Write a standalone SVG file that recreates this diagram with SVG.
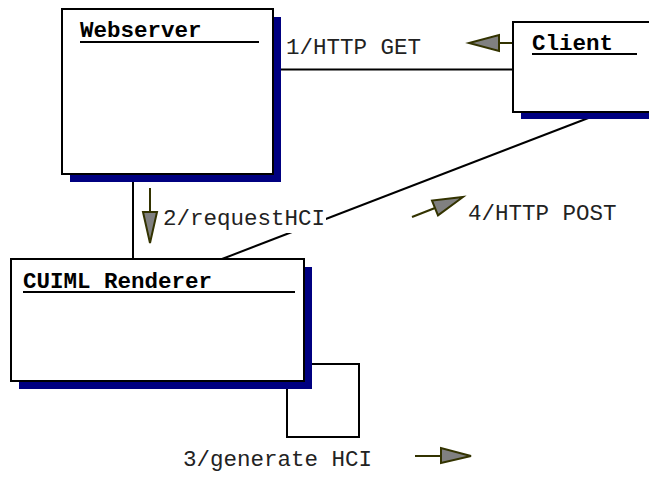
<svg xmlns="http://www.w3.org/2000/svg" width="649" height="478" viewBox="0 0 649 478">
<style>
.line{stroke:#000;stroke-width:2;fill:none}
.box{fill:#fff;stroke:#000;stroke-width:2}
.shadow{fill:#000080}
.title{font-family:"Liberation Mono",monospace;font-size:22.5px;font-weight:bold;fill:#000}
.lbl{font-family:"Liberation Mono",monospace;font-size:22.5px;fill:#222}
.ul{stroke:#000;stroke-width:2}
.ah{fill:#808080;stroke:#333300;stroke-width:2;stroke-linejoin:miter}
.as{stroke:#333300;stroke-width:2;fill:none}
</style>
<rect width="649" height="478" fill="#fff"/>
<g id="connectors">
<line class="line" x1="273" y1="69.5" x2="513" y2="69.5"/>
<line class="line" x1="133" y1="174" x2="133" y2="259"/>
<line class="line" x1="604" y1="112" x2="222" y2="259"/>
<rect class="line" x="287" y="364" width="72" height="73"/>
<text class="lbl" x="286" y="54">1/HTTP GET</text>
<rect x="160" y="208" width="166" height="25" fill="#fff"/>
<text class="lbl" x="163" y="225">2/requestHCI</text>
<text class="lbl" x="183" y="466">3/generate HCI</text>
<text class="lbl" x="468" y="220">4/HTTP POST</text>
<line class="as" x1="499" y1="43" x2="523" y2="43"/>
<polygon class="ah" points="499,35 499,51 469,43"/>
<line class="as" x1="150" y1="188" x2="150" y2="212"/>
<polygon class="ah" points="143,212 157,212 150,243"/>
<line class="as" x1="415" y1="456" x2="441" y2="456"/>
<polygon class="ah" points="441,448 441,463 471,456"/>
<line class="as" x1="412" y1="217" x2="435" y2="208"/>
<polygon class="ah" points="432,200.6 438,215.4 463,197"/>
</g>
<g id="webserver">
<rect class="shadow" x="70" y="17" width="211" height="165"/>
<rect class="box" x="62" y="9" width="211" height="165"/>
<text class="title" x="80" y="37">Webserver</text>
<line class="ul" x1="80" y1="42" x2="259" y2="42"/>
</g>
<g id="client">
<rect class="shadow" x="521" y="30" width="150" height="89"/>
<rect class="box" x="513" y="22" width="150" height="90"/>
<text class="title" x="532" y="50">Client</text>
<line class="ul" x1="532" y1="54" x2="637" y2="54"/>
</g>
<g id="renderer">
<rect class="shadow" x="19" y="267" width="293" height="122"/>
<rect class="box" x="11" y="259" width="293" height="122"/>
<text class="title" x="23" y="288">CUIML Renderer</text>
<line class="ul" x1="23" y1="292" x2="295" y2="292"/>
</g>
</svg>
